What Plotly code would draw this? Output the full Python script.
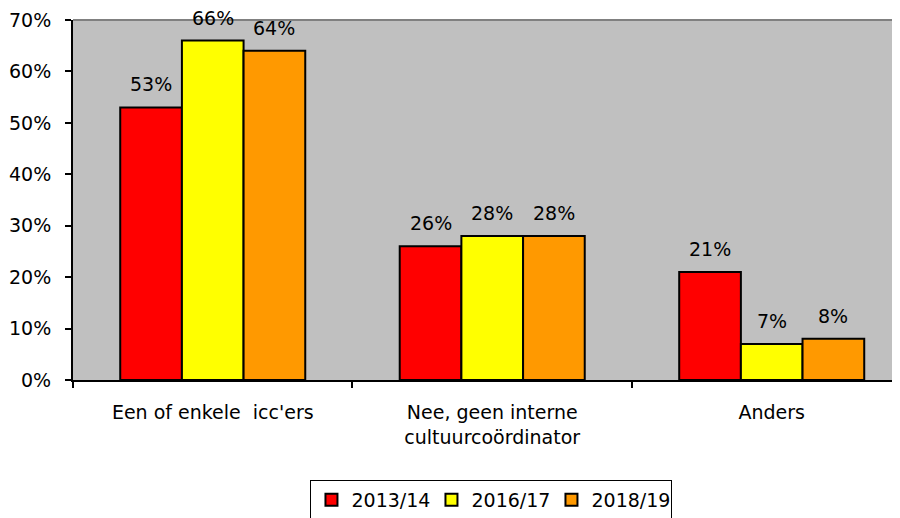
import plotly.graph_objects as go

categories = ["Een of enkele  icc'ers", "Nee, geen interne<br>cultuurcoördinator", "Anders"]
series_names = ["2013/14", "2016/17", "2018/19"]
values_2013 = [0.53, 0.26, 0.21]
values_2016 = [0.66, 0.28, 0.07]
values_2018 = [0.64, 0.28, 0.08]
colors = ["#FF0000", "#FFFF00", "#FF9900"]
y_tickvals = [0, 0.1, 0.2, 0.3, 0.4, 0.5, 0.6, 0.7]

FONT = "DejaVu Sans"
FS = 19

fig = go.Figure()
all_vals = [values_2013, values_2016, values_2018]
for name, vals, col in zip(series_names, all_vals, colors):
    fig.add_trace(go.Bar(
        x=categories, y=vals, name=name,
        marker=dict(color=col, line=dict(color="black", width=2)),
    ))

# data labels
bar_px = 61.7
for i, vals in enumerate(all_vals):
    for cat, v in zip(categories, vals):
        fig.add_annotation(
            x=cat, y=v, xref="x", yref="y",
            text=f"{round(v*100)}%", showarrow=False,
            xshift=(i - 1) * bar_px, yshift=10, yanchor="bottom",
            font=dict(family=FONT, size=FS, color="black"),
        )

fig.update_layout(
    width=892, height=510,
    margin=dict(l=65, r=0, t=12, b=138),
    paper_bgcolor="white", plot_bgcolor="#C0C0C0",
    bargap=0.338, bargroupgap=0,
    font=dict(family=FONT, size=FS, color="black"),
    showlegend=True,
    legend=dict(
        orientation="h", x=0.506, xanchor="center",
        yref="container", y=38 / 510, yanchor="top",
        bordercolor="black", borderwidth=1, bgcolor="white",
        font=dict(family=FONT, size=FS),
        itemwidth=30, tracegroupgap=0, entrywidth=75,
    ),
)
fig.update_xaxes(
    range=[-0.5, 2.459], showline=True, linecolor="black", linewidth=2,
    ticks="outside", tickson="boundaries", ticklen=6, tickwidth=2, tickcolor="black",
    showgrid=False, fixedrange=True, automargin=False, ticklabelstandoff=14,
)
fig.update_yaxes(
    range=[0, 0.7], tickvals=y_tickvals, tickformat=".0%",
    showline=True, linecolor="black", linewidth=2,
    ticks="outside", ticklen=6, tickwidth=2, tickcolor="black",
    showgrid=False, zeroline=False, automargin=False, ticklabelstandoff=10,
)
fig.add_shape(type="line", xref="paper", yref="paper", x0=0, x1=1, y0=1, y1=1,
              line=dict(color="#808080", width=2))

fig.write_html("out.html")
